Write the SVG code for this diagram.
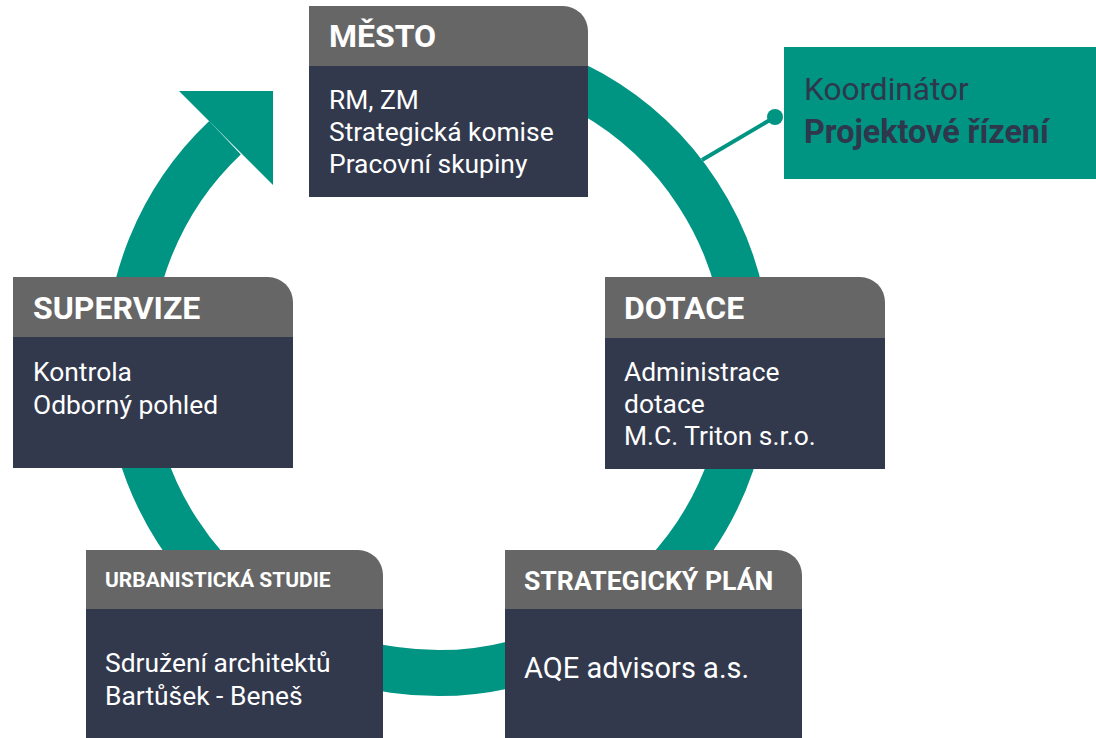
<svg xmlns="http://www.w3.org/2000/svg" width="1096" height="738" viewBox="0 0 1096 738">
<style>
.ring{fill:none;stroke:#009482;stroke-width:46}
.head{fill:#666666}
.body{fill:#32394D}
.ht{font-family:Roboto,"Liberation Sans",sans-serif;font-weight:bold;fill:#ffffff;font-size:32px}
.bt{font-family:Roboto,"Liberation Sans",sans-serif;fill:#ffffff;font-size:26.4px}
.kt{font-family:Roboto,"Liberation Sans",sans-serif;fill:#2F374C;font-size:31.6px}
</style>
<rect width="1096" height="738" fill="#ffffff"/>
<g id="connectors">
<g id="cycle">
<path class="ring" d="M465,54.2 A310,310 0 1 1 225,137.8"/>
<polygon points="179,91 273,91 273,185" fill="#009482"/>
</g>
<line x1="702" y1="160" x2="775" y2="117" stroke="#009482" stroke-width="4"/>
<circle cx="775" cy="117" r="8" fill="#009482"/>
</g>
<g id="mesto">
<path class="head" d="M309,6 H563 A25,25 0 0 1 588,31 V66 H309 Z"/>
<rect class="body" x="309" y="66" width="279" height="131"/>
<text class="ht" x="329" y="47">MĚSTO</text>
<text class="bt" x="329" y="109">RM, ZM</text>
<text class="bt" x="329" y="141">Strategická komise</text>
<text class="bt" x="329" y="173">Pracovní skupiny</text>
</g>
<g id="supervize">
<path class="head" d="M13,277 H268 A25,25 0 0 1 293,302 V337 H13 Z"/>
<rect class="body" x="13" y="337" width="280" height="131"/>
<text class="ht" x="33" y="319">SUPERVIZE</text>
<text class="bt" x="33" y="381">Kontrola</text>
<text class="bt" x="33" y="414">Odborný pohled</text>
</g>
<g id="dotace">
<path class="head" d="M605,277 H860 A25,25 0 0 1 885,302 V338 H605 Z"/>
<rect class="body" x="605" y="338" width="280" height="131"/>
<text class="ht" x="624" y="319">DOTACE</text>
<text class="bt" x="624" y="381">Administrace</text>
<text class="bt" x="624" y="413">dotace</text>
<text class="bt" x="624" y="445">M.C. Triton s.r.o.</text>
</g>
<g id="urbanisticka">
<path class="head" d="M86,550 H358 A25,25 0 0 1 383,575 V609 H86 Z"/>
<rect class="body" x="86" y="609" width="297" height="129"/>
<text class="ht" x="105" y="587" style="font-size:21px">URBANISTICKÁ STUDIE</text>
<text class="bt" x="105" y="672">Sdružení architektů</text>
<text class="bt" x="105" y="705">Bartůšek - Beneš</text>
</g>
<g id="strategicky">
<path class="head" d="M505,550 H777 A25,25 0 0 1 802,575 V609 H505 Z"/>
<rect class="body" x="505" y="609" width="297" height="129"/>
<text class="ht" x="524" y="590" style="font-size:26.6px">STRATEGICKÝ PLÁN</text>
<text class="bt" x="524" y="678" style="font-size:29px">AQE advisors a.s.</text>
</g>
<g id="koordinator">
<rect x="784" y="47" width="312" height="132" fill="#009482"/>
<text class="kt" x="804" y="100">Koordinátor</text>
<text class="kt" x="804" y="143" font-weight="bold" style="font-size:32.3px">Projektové řízení</text>
</g>
</svg>
